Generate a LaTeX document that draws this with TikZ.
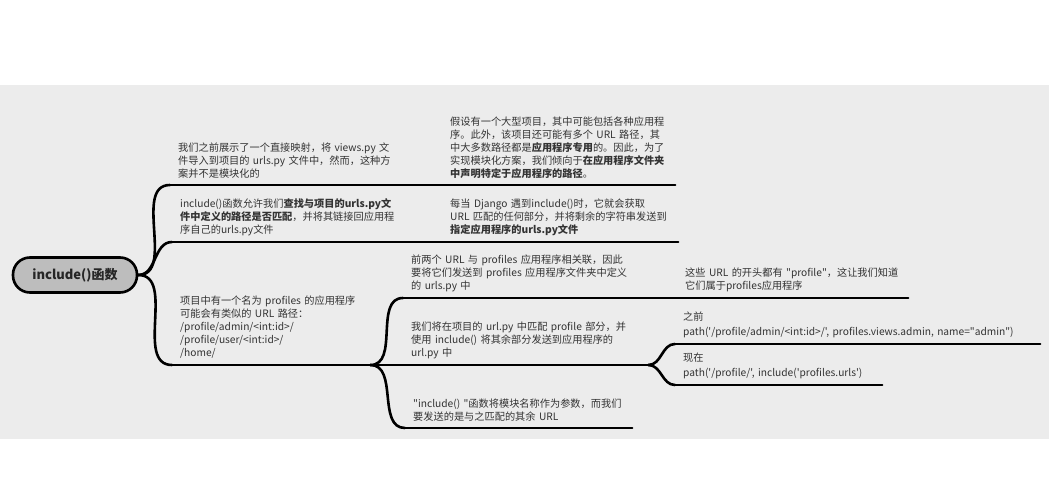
\documentclass[tikz,border=0pt]{standalone}
\usepackage{fontspec}
\setmainfont{Noto Sans CJK SC}[Ligatures=TeXOff]
\usepackage{xcolor}
\usepackage{tikz}

\definecolor{bggray}{HTML}{ECECEC}
\definecolor{rootgray}{HTML}{BDBDBD}
\definecolor{txtgray}{HTML}{333333}

\begin{document}
\begin{tikzpicture}[x=1pt, y=-1pt,
	topic/.style={anchor=south west, align=left, text width=#1, inner xsep=8pt, inner ysep=6pt, text=txtgray, font=\fontsize{10.2}{13}\selectfont},
	uline/.style={line width=2pt, line cap=round},
	branch/.style={line width=2.6pt, line cap=round},
]
	\useasboundingbox (0,0) rectangle (1049,500);
	\fill[bggray] (0,85) rectangle (1049,439);
	\node[rectangle, rounded corners=17pt, minimum width=124pt, minimum height=35pt, fill=rootgray, draw=black, line width=2.6pt, font=\fontsize{13}{15}\selectfont\bfseries, text=black!85] at (75,275)(root){include()函数};

	\node[topic=250pt] at (170,185)(views){我们之前展示了一个直接映射，将~views.py~文\\件导入到项目的~urls.py~文件中，然而，这种方\\案并不是模块化的};
	\node[topic=217pt] at (442,185)(modular){假设有一个大型项目，其中可能包括各种应用程\\序。此外，该项目还可能有多个~URL~路径，其\\中大多数路径都是\textbf{应用程序专用}的。因此，为了\\实现模块化方案，我们倾向于\textbf{在应用程序文件夹}\\\textbf{中声明特定于应用程序的路径}。};
	\node[topic=248pt] at (172,242)(includefn){include()函数允许我们\textbf{查找与项目的urls.py文}\\\textbf{件中定义的路径是否匹配}，并将其链接回应用程\\序自己的urls.py文件};
	\node[topic=220pt] at (442,242)(django){每当~Django~遇到include()时，它就会获取\\URL~匹配的任何部分，并将剩余的字符串发送到\\\textbf{指定应用程序的urls.py文件}};
	\node[topic=182pt] at (172,365)(profiles){项目中有一个名为~profiles~的应用程序\\可能会有类似的~URL~路径：\\/profile/admin/<int:id>/\\/profile/user/<int:id>/\\/home/};
	\node[topic=256pt] at (403,298)(firsttwo){前两个~URL~与~profiles~应用程序相关联，因此\\要将它们发送到~profiles~应用程序文件夹中定义\\的~urls.py~中};
	\node[topic=215pt] at (677,298)(prefix){这些~URL~的开头都有~"profile"，这让我们知道\\它们属于profiles应用程序};
	\node[topic=229pt] at (403,365)(matchurl){我们将在项目的~url.py~中匹配~profile~部分，并\\使用~include()~将其余部分发送到应用程序的\\url.py~中};
	\node[topic=349pt, font=\fontsize{10.2}{15}\selectfont] at (675,344)(before){之前\\path('/profile/admin/<int:id>/',~profiles.views.admin,~name="admin")};
	\node[topic=191pt, font=\fontsize{10.2}{15}\selectfont] at (675,385)(now){现在\\path('/profile/',~include('profiles.urls')};
	\node[topic=211pt] at (405,428)(modname){"include()~"函数将模块名称作为参数，而我们\\要发送的是与之匹配的其余~URL};

	% underlines
	\draw[uline] (views.south west) -- (views.south east);
	\draw[uline] (modular.south west) -- (modular.south east);
	\draw[uline] (includefn.south west) -- (includefn.south east);
	\draw[uline] (django.south west) -- (django.south east);
	\draw[uline] (profiles.south west) -- (profiles.south east);
	\draw[uline] (firsttwo.south west) -- (firsttwo.south east);
	\draw[uline] (prefix.south west) -- (prefix.south east);
	\draw[uline] (matchurl.south west) -- (matchurl.south east);
	\draw[uline] (before.south west) -- (before.south east);
	\draw[uline] (now.south west) -- (now.south east);
	\draw[uline] (modname.south west) -- (modname.south east);

	% branches
	\draw[branch] (root.east) to[out=0, in=180] (views.south west);
	\draw[branch] (root.east) to[out=0, in=180] (includefn.south west);
	\draw[branch] (root.east) to[out=0, in=180] (profiles.south west);
	\draw[uline] (views.south east) -- (modular.south west);
	\draw[uline] (includefn.south east) -- (django.south west);
	\draw[branch] (profiles.south east) to[out=0, in=180] (firsttwo.south west);
	\draw[branch] (profiles.south east) -- (matchurl.south west);
	\draw[branch] (profiles.south east) to[out=0, in=180] (modname.south west);
	\draw[uline] (firsttwo.south east) -- (prefix.south west);
	\draw[branch] (matchurl.south east) to[out=0, in=180] (before.south west);
	\draw[branch] (matchurl.south east) to[out=0, in=180] (now.south west);
\end{tikzpicture}
\end{document}
